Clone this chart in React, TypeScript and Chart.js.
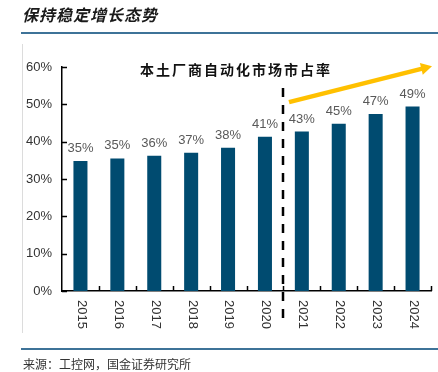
import React, { useEffect, useRef } from 'react';
import { Chart, registerables } from 'chart.js';

Chart.register(...registerables);

const years = ['2015', '2016', '2017', '2018', '2019', '2020', '2021', '2022', '2023', '2024'];
const shares = [34.8, 35.5, 36.2, 37.0, 38.4, 41.3, 42.7, 44.8, 47.4, 49.4];
const shareLabels = ['35%', '35%', '36%', '37%', '38%', '41%', '43%', '45%', '47%', '49%'];
const yTickValues = [0, 10, 20, 30, 40, 50, 60];
const chartTitle = '保持稳定增长态势';
const innerTitle = '本土厂商自动化市场市占率';
const sourceNote = '来源：工控网，国金证券研究所';
const forecastStartIndex = 6;
const dashedTopValue = 54.4;
const arrowValues = [50.6, 60.2];

const BAR_COLOR = '#004B70';
const RULE_COLOR = '#3E7398';

const decorPlugin = {
  id: 'decor',
  afterDraw(chart: any) {
    const { ctx, chartArea } = chart;
    const xs = chart.scales.x;
    const ys = chart.scales.y;
    const meta = chart.getDatasetMeta(0);
    ctx.save();

    // header title
    ctx.fillStyle = '#1a1a1a';
    ctx.font = 'italic bold 16px "Noto Sans CJK SC"';
    ctx.textAlign = 'left';
    ctx.textBaseline = 'middle';
    (ctx as any).letterSpacing = '1px';
    ctx.fillText(chartTitle, 22, 15);
    (ctx as any).letterSpacing = '0px';

    // rules
    ctx.strokeStyle = RULE_COLOR;
    ctx.lineWidth = 2;
    ctx.beginPath();
    ctx.moveTo(21, 33);
    ctx.lineTo(438, 33);
    ctx.moveTo(21, 349);
    ctx.lineTo(438, 349);
    ctx.stroke();

    ctx.strokeStyle = '#dcdcdc';
    ctx.lineWidth = 1;
    ctx.beginPath();
    ctx.moveTo(22.5, 44);
    ctx.lineTo(22.5, 333);
    ctx.stroke();

    // source
    ctx.fillStyle = '#333';
    ctx.font = '12px "Noto Sans CJK SC"';
    ctx.textBaseline = 'middle';
    ctx.fillText(sourceNote, 23, 364);

    // inner title
    ctx.fillStyle = '#111';
    ctx.font = 'bold 14px "Noto Sans CJK SC"';
    ctx.textAlign = 'center';
    (ctx as any).letterSpacing = '2px';
    ctx.fillText(innerTitle, 236, 70);
    (ctx as any).letterSpacing = '0px';

    // tick marks (inward)
    ctx.strokeStyle = '#000';
    ctx.lineWidth = 1.5;
    ctx.beginPath();
    yTickValues.forEach((v) => {
      const y = Math.round(ys.getPixelForValue(v)) + 0.5;
      ctx.moveTo(chartArea.left, y);
      ctx.lineTo(chartArea.left + 5, y);
    });
    const step = (chartArea.right - chartArea.left) / years.length;
    for (let i = 1; i <= years.length; i++) {
      const x = Math.round(chartArea.left + i * step) + 0.5;
      ctx.moveTo(x, chartArea.bottom);
      ctx.lineTo(x, chartArea.bottom - 5);
    }
    ctx.stroke();

    // data labels
    ctx.fillStyle = '#595959';
    ctx.font = '13px Arial';
    ctx.textAlign = 'center';
    ctx.textBaseline = 'alphabetic';
    meta.data.forEach((bar: any, i: number) => {
      ctx.fillText(shareLabels[i], bar.x, bar.y - 9);
    });

    // x labels rotated clockwise
    ctx.fillStyle = '#333';
    ctx.font = '13px Arial';
    meta.data.forEach((bar: any, i: number) => {
      ctx.save();
      ctx.translate(bar.x + 1, chartArea.bottom + 9);
      ctx.rotate(Math.PI / 2);
      ctx.textAlign = 'left';
      ctx.textBaseline = 'middle';
      ctx.fillText(years[i], 0, 0);
      ctx.restore();
    });

    // dashed forecast divider
    const dx = Math.round((xs.getPixelForValue(forecastStartIndex - 1) + xs.getPixelForValue(forecastStartIndex)) / 2);
    ctx.strokeStyle = '#000';
    ctx.lineWidth = 2.5;
    ctx.setLineDash([9, 8]);
    ctx.beginPath();
    ctx.moveTo(dx, ys.getPixelForValue(dashedTopValue));
    ctx.lineTo(dx, chartArea.bottom + 35);
    ctx.stroke();
    ctx.setLineDash([]);

    // arrow
    const x0 = dx + 6;
    const y0 = ys.getPixelForValue(arrowValues[0]);
    const x1 = chartArea.right + 1;
    const y1 = ys.getPixelForValue(arrowValues[1]);
    const ang = Math.atan2(y1 - y0, x1 - x0);
    const headLen = 11;
    const headHalf = 6;
    const bx = x1 - headLen * Math.cos(ang);
    const by = y1 - headLen * Math.sin(ang);
    ctx.strokeStyle = '#FFC000';
    ctx.fillStyle = '#FFC000';
    ctx.lineWidth = 4.5;
    ctx.beginPath();
    ctx.moveTo(x0, y0);
    ctx.lineTo(bx + Math.cos(ang), by + Math.sin(ang));
    ctx.stroke();
    ctx.beginPath();
    ctx.moveTo(x1, y1);
    ctx.lineTo(bx + headHalf * Math.sin(ang), by - headHalf * Math.cos(ang));
    ctx.lineTo(bx - headHalf * Math.sin(ang), by + headHalf * Math.cos(ang));
    ctx.closePath();
    ctx.fill();

    ctx.restore();
  },
};

export default function App() {
  const ref = useRef<HTMLCanvasElement | null>(null);
  useEffect(() => {
    if (!ref.current) return;
    const chart = new Chart(ref.current, {
      type: 'bar',
      data: {
        labels: years,
        datasets: [
          {
            data: shares,
            backgroundColor: BAR_COLOR,
            barPercentage: 0.38,
            categoryPercentage: 1,
          },
        ],
      },
      options: {
        responsive: false,
        animation: false,
        devicePixelRatio: 1,
        layout: { padding: { left: 22, right: 7, top: 67, bottom: 23 } },
        plugins: { legend: { display: false }, tooltip: { enabled: false }, title: { display: false } },
        scales: {
          x: {
            grid: { display: false, drawTicks: false },
            border: { display: true, color: '#000', width: 1.5 },
            ticks: { display: false },
            afterFit: (s: any) => {
              s.height = 58;
            },
          },
          y: {
            min: 0,
            max: 60,
            grid: { display: false, drawTicks: false },
            border: { display: true, color: '#000', width: 1.5 },
            ticks: {
              stepSize: 10,
              padding: 10,
              color: '#333',
              font: { family: 'Arial', size: 13 },
              callback: (v: any) => v + '%',
            },
            afterFit: (s: any) => {
              s.width = 40;
            },
          },
        },
      },
      plugins: [decorPlugin],
    });
    return () => chart.destroy();
  }, []);
  return (
    <div style={{ position: 'fixed', left: 0, top: 0, width: 438, height: 372, background: '#fff' }}>
      <canvas ref={ref} width={438} height={372} style={{ display: 'block' }} />
    </div>
  );
}
